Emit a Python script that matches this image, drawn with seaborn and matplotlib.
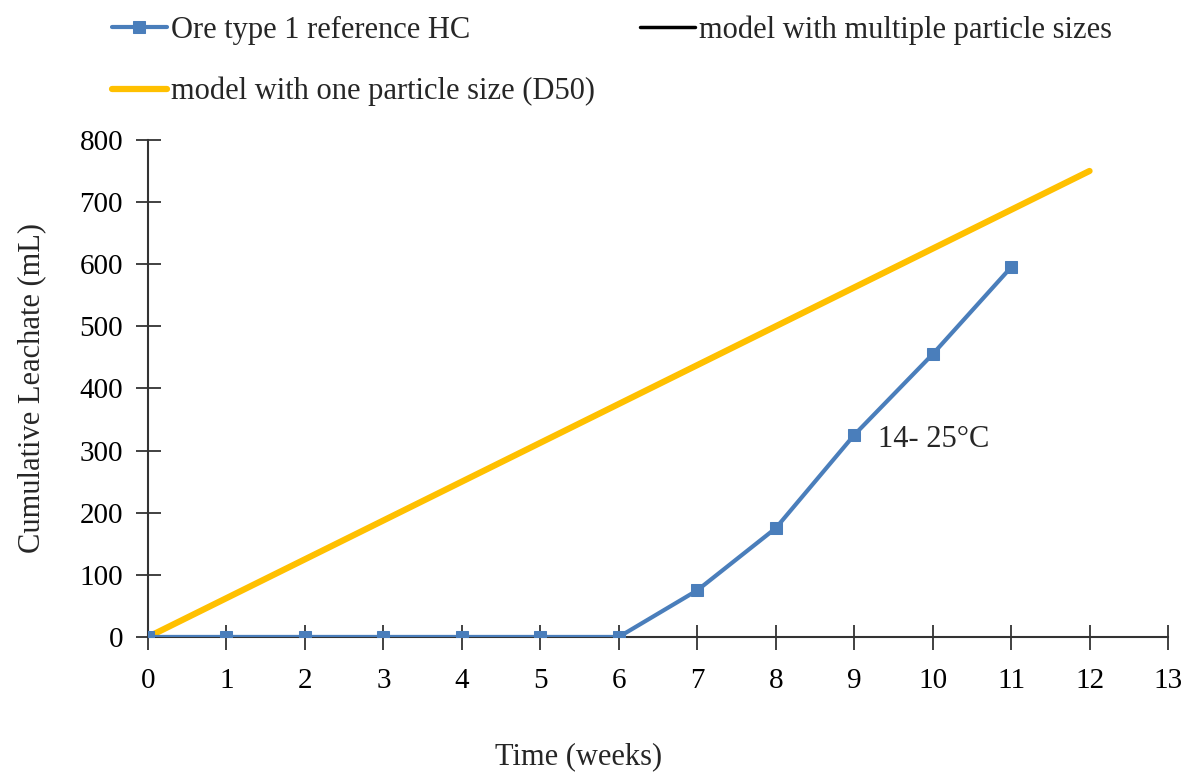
import numpy as np
import pandas as pd
import matplotlib
matplotlib.use("Agg")
import matplotlib.pyplot as plt
import seaborn as sns

weeks_ref = [0, 1, 2, 3, 4, 5, 6, 7, 8, 9, 10, 11]
leachate_ref = [0, 0, 0, 0, 0, 0, 0, 75, 175, 325, 455, 595]
weeks_multi = [0, 1, 2, 3, 4, 5, 6, 7, 8, 9, 10, 11]
leachate_multi = [0, 63, 125, 188, 250, 313, 375, 438, 500, 563, 625, 688]
weeks_d50 = [0, 1, 2, 3, 4, 5, 6, 7, 8, 9, 10, 11, 12]
leachate_d50 = [0, 62.5, 125, 187.5, 250, 312.5, 375, 437.5, 500, 562.5, 625, 687.5, 750]
x_ticks = list(range(0, 14))
y_ticks = list(range(0, 900, 100))

sns.set_theme(style="white")
plt.rcParams['font.family'] = ['Liberation Serif', 'DejaVu Serif']
plt.rcParams['font.size'] = 22

fig = plt.figure(figsize=(11.87, 7.73), dpi=100)
ax = fig.add_axes([0.1247, 0.176, 0.8593, 0.643])

blue = "#4a7ebb"
yellow = "#ffc000"

sns.lineplot(x=weeks_multi, y=leachate_multi, ax=ax, color="black", linewidth=2.5,
             label="model with multiple particle sizes", zorder=2)
sns.lineplot(x=weeks_d50, y=leachate_d50, ax=ax, color=yellow, linewidth=4.5,
             label="model with one particle size (D50)", zorder=3)
sns.lineplot(x=weeks_ref, y=leachate_ref, ax=ax, color=blue, linewidth=3,
             marker="s", markersize=9, markeredgecolor=blue,
             label="Ore type 1 reference HC", zorder=4)

ax.set_xlim(0, 13)
ax.set_ylim(0, 800)
ax.set_xticks(x_ticks)
ax.set_yticks(y_ticks)
ax.tick_params(axis="both", direction="inout", length=18, width=1.3, colors="#333333",
               labelsize=21, labelcolor="black", bottom=True, left=True)
ax.tick_params(axis="x", pad=13)
ax.tick_params(axis="y", pad=9)
for s in ["top", "right"]:
    ax.spines[s].set_visible(False)
for s in ["left", "bottom"]:
    ax.spines[s].set_color("#333333")
    ax.spines[s].set_linewidth(1.5)

ax.set_ylabel("Cumulative Leachate (mL)", fontsize=22)
ax.yaxis.set_label_coords(-0.1, 0.5)
ax.set_xlabel("")
fig.text(0.4875, 0.021, "Time (weeks)", fontsize=22, ha="center", va="center")

ax.text(9.3, 318, "14- 25°C", fontsize=22, ha="left", va="center")

h, l = ax.get_legend_handles_labels()
ax.get_legend().remove()
order = [2, 1, 0]
fig.legend([h[i] for i in order], [l[i] for i in order], ncol=2,
           loc="upper left", bbox_to_anchor=(0.071, 1.016), frameon=False,
           fontsize=22, handlelength=1.8, handletextpad=0.15,
           columnspacing=1.45, labelspacing=1.05)

fig.savefig("out.png", dpi=100)
